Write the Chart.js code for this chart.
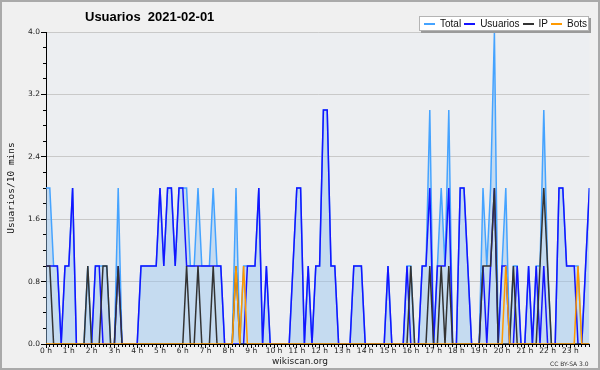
<!DOCTYPE html>
<html>
<head>
<meta charset="utf-8">
<script src="https://cdn.jsdelivr.net/npm/chart.js@4.4.1/dist/chart.umd.min.js"></script>
<style>
  body { margin: 0; background: #fff; }
  #wrap { position: relative; width: 600px; height: 370px; background: #f0f0f0; overflow: hidden; }
  #chart { position: absolute; left: 0; top: 0; }
  #frame { position: absolute; left: 0; top: 0; width: 600px; height: 370px; box-sizing: border-box; border: 2px solid #aaaaaa; pointer-events: none; }
  #title { position: absolute; left: 85px; top: 9px; font: bold 13px "Liberation Sans", sans-serif; white-space: pre; color: #000; }
  #legend { position: absolute; left: 419px; top: 16px; height: 15px; box-sizing: border-box; border: 1px solid #b4b4b4; background: #fff; box-shadow: 2px 2px 0 #9a9a9a; display: flex; align-items: center; padding: 0 1px 0 4px; font: 10px "Liberation Sans", sans-serif; color: #111; }
  .item { display: flex; align-items: center; margin-right: 3px; }
  .item:last-child { margin-right: 0; }
  .swatch { display: inline-block; width: 11px; height: 2px; margin-right: 5px; }
  #site { position: absolute; left: 0; width: 600px; top: 356px; text-align: center; font: 9px "DejaVu Sans", sans-serif; color: #222; }
  #cc { position: absolute; left: 550px; top: 360px; font: 6px "DejaVu Sans", sans-serif; color: #333; }
</style>
</head>
<body>
<div id="wrap">
  <canvas id="chart" width="600" height="370"></canvas>
  <div id="title">Usuarios  2021-02-01</div>
  <div id="legend"></div>
  <div id="site">wikiscan.org</div>
  <div id="cc">CC BY-SA 3.0</div>
  <div id="frame"></div>
</div>
<script>
// one slot every 10 minutes, 144 slots in the day
const slots = Array.from({ length: 144 }, (_, i) => i);

const hourLabels = ['0 h', '1 h', '2 h', '3 h', '4 h', '5 h', '6 h', '7 h', '8 h', '9 h', '10 h', '11 h',
    '12 h', '13 h', '14 h', '15 h', '16 h', '17 h', '18 h', '19 h', '20 h', '21 h', '22 h', '23 h'];
const yTickLabels = ['0.0', '0.8', '1.6', '2.4', '3.2', '4.0'];

// two hours per row
const total = [
    2, 2, 1, 1, 0, 1, 1, 2, 0, 0, 0, 1,
    0, 1, 1, 1, 1, 0, 0, 2, 0, 0, 0, 0,
    0, 1, 1, 1, 1, 1, 2, 1, 2, 2, 1, 2,
    2, 2, 1, 1, 2, 1, 1, 1, 2, 1, 1, 0,
    0, 0, 2, 0, 1, 1, 1, 1, 2, 0, 1, 0,
    0, 0, 0, 0, 0, 1, 2, 2, 0, 1, 0, 1,
    1, 3, 3, 1, 1, 0, 0, 0, 0, 1, 1, 1,
    0, 0, 0, 0, 0, 0, 1, 0, 0, 0, 0, 1,
    1, 0, 0, 1, 1, 3, 0, 1, 2, 1, 3, 0,
    0, 2, 2, 1, 0, 0, 0, 2, 1, 2, 4, 0,
    1, 2, 0, 1, 1, 0, 0, 1, 0, 1, 1, 3,
    1, 0, 0, 2, 2, 1, 1, 1, 1, 0, 1, 2
];
const usuarios = [
    1, 1, 1, 1, 0, 1, 1, 2, 0, 0, 0, 0,
    0, 1, 1, 0, 0, 0, 0, 1, 0, 0, 0, 0,
    0, 1, 1, 1, 1, 1, 2, 1, 2, 2, 1, 2,
    2, 1, 1, 1, 1, 1, 1, 1, 1, 1, 1, 0,
    0, 0, 0, 0, 0, 1, 1, 1, 2, 0, 1, 0,
    0, 0, 0, 0, 0, 1, 2, 2, 0, 1, 0, 1,
    1, 3, 3, 1, 1, 0, 0, 0, 0, 1, 1, 1,
    0, 0, 0, 0, 0, 0, 1, 0, 0, 0, 0, 1,
    0, 0, 0, 1, 1, 2, 0, 1, 1, 1, 2, 0,
    0, 2, 2, 1, 0, 0, 0, 1, 0, 1, 2, 0,
    1, 1, 0, 0, 1, 0, 0, 1, 0, 1, 0, 1,
    0, 0, 0, 2, 2, 1, 1, 1, 0, 0, 1, 2
];
const ip = [
    1, 1, 0, 0, 0, 0, 0, 0, 0, 0, 0, 1,
    0, 0, 0, 1, 1, 0, 0, 1, 0, 0, 0, 0,
    0, 0, 0, 0, 0, 0, 0, 0, 0, 0, 0, 0,
    0, 1, 0, 0, 1, 0, 0, 0, 1, 0, 0, 0,
    0, 0, 1, 0, 0, 0, 0, 0, 0, 0, 0, 0,
    0, 0, 0, 0, 0, 0, 0, 0, 0, 0, 0, 0,
    0, 0, 0, 0, 0, 0, 0, 0, 0, 0, 0, 0,
    0, 0, 0, 0, 0, 0, 0, 0, 0, 0, 0, 0,
    1, 0, 0, 0, 0, 1, 0, 0, 1, 0, 1, 0,
    0, 0, 0, 0, 0, 0, 0, 1, 1, 1, 2, 0,
    0, 0, 0, 1, 0, 0, 0, 0, 0, 0, 1, 2,
    1, 0, 0, 0, 0, 0, 0, 0, 0, 0, 0, 0
];
const bots = [
    0, 0, 0, 0, 0, 0, 0, 0, 0, 0, 0, 0,
    0, 0, 0, 0, 0, 0, 0, 0, 0, 0, 0, 0,
    0, 0, 0, 0, 0, 0, 0, 0, 0, 0, 0, 0,
    0, 0, 0, 0, 0, 0, 0, 0, 0, 0, 0, 0,
    0, 0, 1, 0, 1, 0, 0, 0, 0, 0, 0, 0,
    0, 0, 0, 0, 0, 0, 0, 0, 0, 0, 0, 0,
    0, 0, 0, 0, 0, 0, 0, 0, 0, 0, 0, 0,
    0, 0, 0, 0, 0, 0, 0, 0, 0, 0, 0, 0,
    0, 0, 0, 0, 0, 0, 0, 0, 0, 0, 0, 0,
    0, 0, 0, 0, 0, 0, 0, 0, 0, 0, 0, 0,
    0, 1, 0, 0, 0, 0, 0, 0, 0, 0, 0, 0,
    0, 0, 0, 0, 0, 0, 0, 0, 1, 0, 0, 0
];

const plotBg = {
    id: 'plotBg',
    beforeDraw(chart) {
        const { ctx, chartArea: a } = chart;
        ctx.save();
        ctx.fillStyle = '#eceef1';
        ctx.fillRect(a.left, a.top, a.right - a.left, a.bottom - a.top);
        ctx.restore();
    }
};

const tickFont = { family: 'DejaVu Sans', size: 7.5 };

const chart = new Chart(document.getElementById('chart'), {
    type: 'line',
    data: {
        labels: slots,
        datasets: [
            { label: 'Total', data: total, borderColor: '#45a3ff', backgroundColor: 'rgba(150,195,240,0.45)', fill: 'origin', order: 4 },
            { label: 'Usuarios', data: usuarios, borderColor: '#1414ff', fill: false, order: 3 },
            { label: 'IP', data: ip, borderColor: '#333333', fill: false, order: 2 },
            { label: 'Bots', data: bots, borderColor: '#ff9a00', fill: false, order: 1 }
        ]
    },
    options: {
        responsive: false,
        animation: false,
        devicePixelRatio: 1,
        layout: { padding: { top: 32, right: 10.6, bottom: 0, left: 0 } },
        elements: {
            point: { radius: 0 },
            line: { borderWidth: 1.5, tension: 0 }
        },
        plugins: {
            legend: { display: false },
            tooltip: { enabled: false }
        },
        scales: {
            x: {
                type: 'linear', position: 'bottom', weight: 0, min: 0, max: 143,
                ticks: { display: false, stepSize: 1, maxTicksLimit: 200, autoSkip: false },
                grid: { drawOnChartArea: false, tickLength: 3, tickColor: '#000' },
                border: { display: false },
                afterFit: s => { s.height = 0; }
            },
            xh: {
                type: 'linear', position: 'bottom', weight: 1, min: 0, max: 143,
                ticks: {
                    stepSize: 6, maxTicksLimit: 40, autoSkip: false, includeBounds: false,
                    maxRotation: 0, padding: -1, font: tickFont, color: '#222',
                    callback: v => hourLabels[v / 6]
                },
                grid: { drawOnChartArea: false, tickLength: 4, tickColor: '#000' },
                border: { color: '#000' },
                afterFit: s => { s.height = 26; }
            },
            y: {
                position: 'left', weight: 1, min: 0, max: 4,
                ticks: {
                    stepSize: 0.8, padding: 1, font: tickFont, color: '#222',
                    callback: v => yTickLabels[Math.round(v / 0.8)]
                },
                grid: {
                    color: c => c.index === 0 ? 'rgba(0,0,0,0)' : '#c9c9c9',
                    tickColor: '#000', tickLength: 5
                },
                border: { color: '#000' },
                title: {
                    display: true, text: 'Usuarios/10 mins', color: '#111',
                    font: { family: 'DejaVu Sans Mono', size: 9.5 },
                    padding: { top: 6, bottom: 0 }
                },
                afterFit: s => { s.width = 46; }
            },
            ym: {
                position: 'left', weight: 0, min: 0, max: 4,
                ticks: { display: false, stepSize: 0.2, maxTicksLimit: 50 },
                grid: { drawOnChartArea: false, tickLength: 3, tickColor: '#000' },
                border: { display: false },
                afterFit: s => { s.width = 0; }
            }
        }
    },
    plugins: [plotBg]
});

// legend built from the chart's own datasets
const legendEl = document.getElementById('legend');
chart.data.datasets.forEach(ds => {
    const item = document.createElement('span');
    item.className = 'item';
    const swatch = document.createElement('span');
    swatch.className = 'swatch';
    swatch.style.backgroundColor = ds.borderColor;
    const text = document.createElement('span');
    text.textContent = ds.label;
    item.appendChild(swatch);
    item.appendChild(text);
    legendEl.appendChild(item);
});
</script>
</body>
</html>
